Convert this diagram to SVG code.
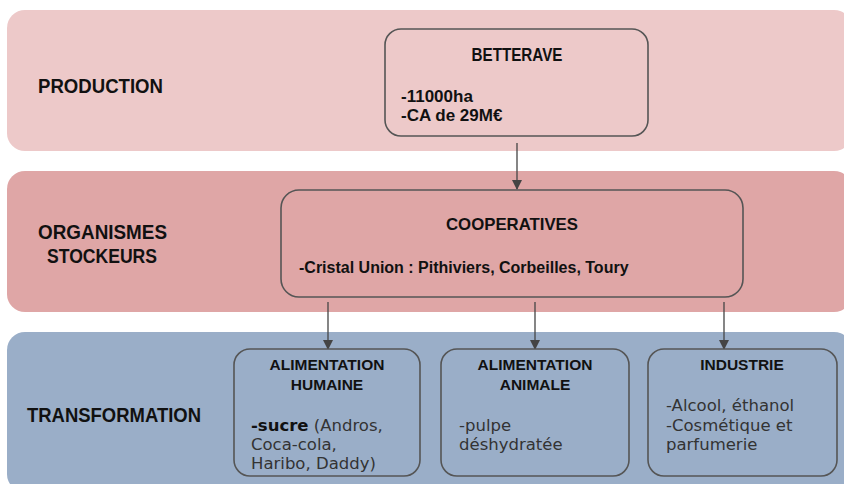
<svg xmlns="http://www.w3.org/2000/svg" width="844" height="484" viewBox="0 0 844 484">
<defs>
<style>
.band{stroke:none}
.box{stroke:#555;stroke-width:1.6}
.lbl{font-family:"Liberation Sans",Arial,sans-serif;font-weight:bold;font-size:19.5px;fill:#111}
.ttl{font-family:"Liberation Sans",Arial,sans-serif;font-weight:bold;font-size:18px;fill:#111;text-anchor:middle}
.sub{font-family:"Liberation Sans",Arial,sans-serif;font-weight:bold;font-size:15.5px;fill:#111;text-anchor:middle}
.bt{font-family:"Liberation Sans",Arial,sans-serif;font-weight:bold;font-size:16px;fill:#111}
.bt2{font-family:"Liberation Sans",Arial,sans-serif;font-weight:bold;font-size:17px;fill:#111}
.rt{font-family:"DejaVu Sans",sans-serif;font-size:16.5px;fill:#333}
.edge{stroke:#444;stroke-width:1.3;fill:none}
</style>
<marker id="ah" markerWidth="10" markerHeight="10" refX="9" refY="5" orient="auto" markerUnits="userSpaceOnUse">
<path d="M0,0 L10,5 L0,10 Z" fill="#444"/>
</marker>
</defs>
<rect width="844" height="484" fill="#ffffff"/>
<g id="band-production">
<rect class="band" x="7" y="10" width="845" height="141" rx="18" fill="#edc9c9"/>
<text class="lbl" x="38" y="93" textLength="125" lengthAdjust="spacingAndGlyphs">PRODUCTION</text>
</g>
<g id="band-stockeurs">
<rect class="band" x="7" y="171" width="845" height="141" rx="18" fill="#dfa6a6"/>
<text class="lbl" x="38" y="239" textLength="129" lengthAdjust="spacingAndGlyphs">ORGANISMES</text>
<text class="lbl" x="47" y="263" textLength="110" lengthAdjust="spacingAndGlyphs">STOCKEURS</text>
</g>
<g id="band-transformation">
<rect class="band" x="7" y="332" width="845" height="160" rx="18" fill="#9aaec8"/>
<text class="lbl" x="27" y="422" textLength="174" lengthAdjust="spacingAndGlyphs">TRANSFORMATION</text>
</g>
<g id="connectors">
<line class="edge" x1="517" y1="143" x2="517" y2="189" marker-end="url(#ah)"/>
<line class="edge" x1="328" y1="302" x2="328" y2="349" marker-end="url(#ah)"/>
<line class="edge" x1="535" y1="302" x2="535" y2="349" marker-end="url(#ah)"/>
<line class="edge" x1="724" y1="302" x2="724" y2="349" marker-end="url(#ah)"/>
</g>
<g id="betterave">
<rect class="box" x="385" y="29" width="263" height="107" rx="16" fill="#edc9c9"/>
<text class="ttl" x="517" y="61" textLength="91" lengthAdjust="spacingAndGlyphs">BETTERAVE</text>
<text class="bt2" x="401" y="102">-11000ha</text>
<text class="bt2" x="401" y="121">-CA de 29M€</text>
</g>
<g id="cooperatives">
<rect class="box" x="281" y="190" width="462" height="107" rx="18" fill="#dfa6a6"/>
<text class="ttl" x="512" y="230" style="font-size:17px" textLength="132" lengthAdjust="spacingAndGlyphs">COOPERATIVES</text>
<text class="bt" x="299" y="273">-Cristal Union : Pithiviers, Corbeilles, Toury</text>
</g>
<g id="alimentation-humaine">
<rect class="box" x="234" y="349" width="186" height="127" rx="16" fill="#9aaec8"/>
<text class="sub" x="327" y="370">ALIMENTATION</text>
<text class="sub" x="327" y="390">HUMAINE</text>
<text class="rt" x="251" y="431"><tspan font-weight="bold" fill="#111">-sucre</tspan> (Andros,</text>
<text class="rt" x="251" y="450">Coca-cola,</text>
<text class="rt" x="251" y="469">Haribo, Daddy)</text>
</g>
<g id="alimentation-animale">
<rect class="box" x="441" y="349" width="188" height="127" rx="16" fill="#9aaec8"/>
<text class="sub" x="535" y="370">ALIMENTATION</text>
<text class="sub" x="535" y="390">ANIMALE</text>
<text class="rt" x="459" y="431">-pulpe</text>
<text class="rt" x="459" y="450">déshydratée</text>
</g>
<g id="industrie">
<rect class="box" x="648" y="349" width="189" height="127" rx="16" fill="#9aaec8"/>
<text class="sub" x="742" y="370">INDUSTRIE</text>
<text class="rt" x="666" y="411">-Alcool, éthanol</text>
<text class="rt" x="666" y="431">-Cosmétique et</text>
<text class="rt" x="666" y="450">parfumerie</text>
</g>
</svg>
